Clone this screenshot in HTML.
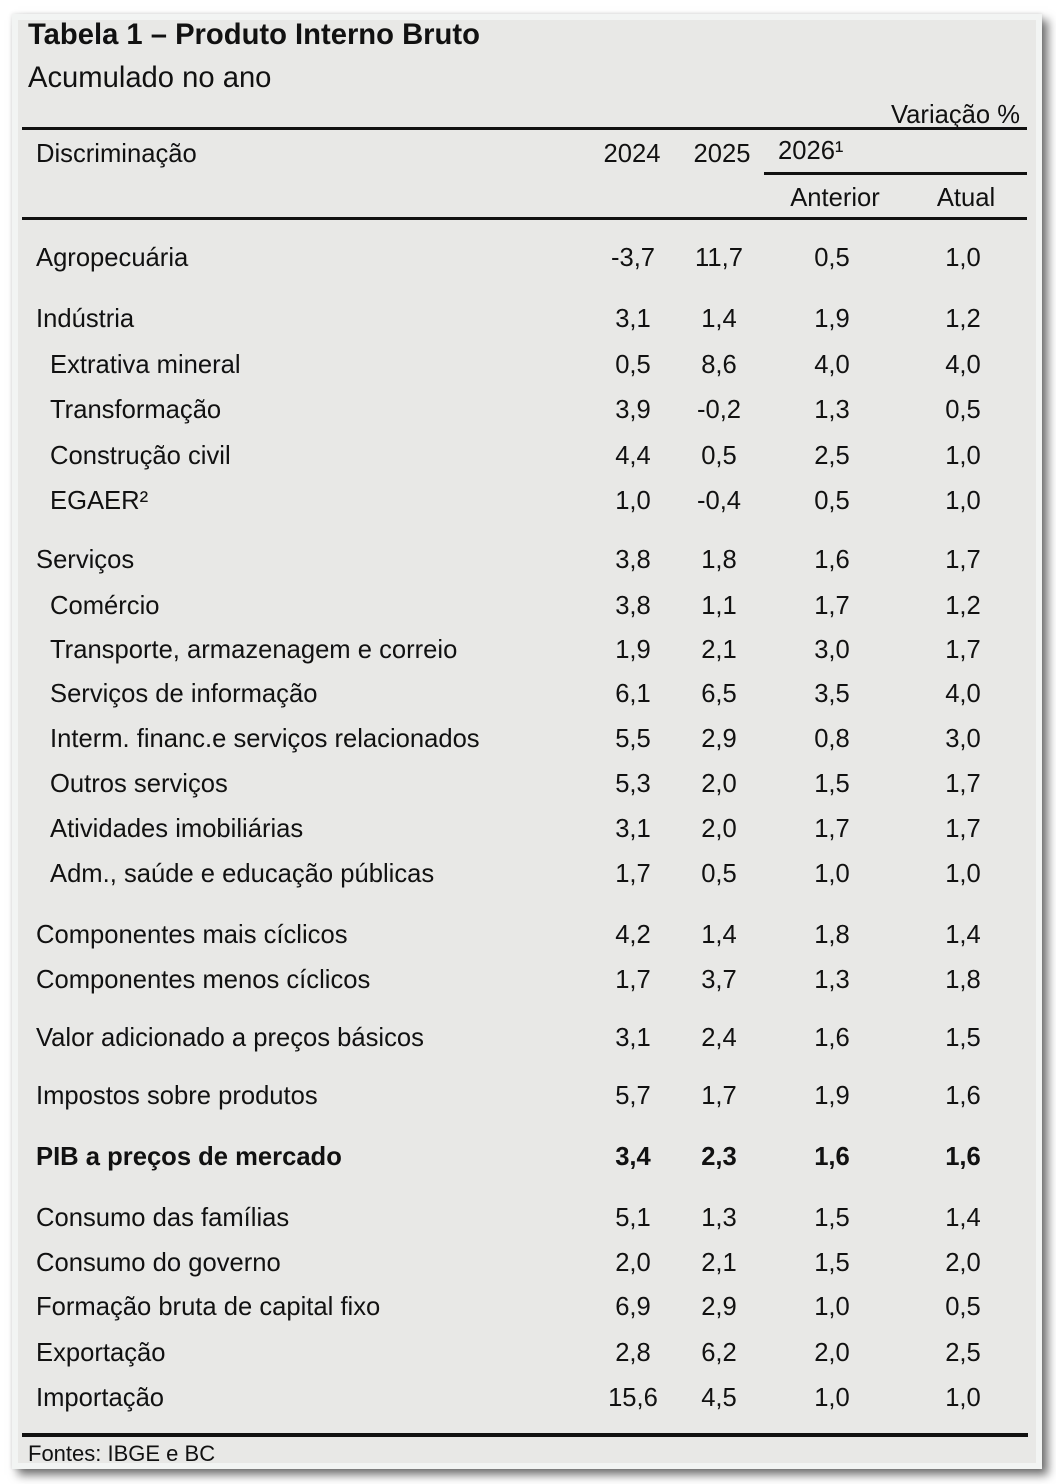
<!DOCTYPE html>
<html>
<head>
<meta charset="utf-8">
<style>
  html, body { margin:0; padding:0; }
  body { width:1056px; height:1484px; background:#ffffff; position:relative; overflow:hidden;
         font-family:"Liberation Sans", Arial, sans-serif; color:#111; }
  .card { position:absolute; left:12px; top:14px; width:1030px; height:1455px; background:#f2f4f3;
          box-shadow: 6px 6px 9px rgba(0,0,0,0.55), 0 0 4px rgba(0,0,0,0.12); }
  .inner { position:absolute; left:18px; top:20px; width:1018px; height:1443px; background:#e8e8e6; }
  .t { position:absolute; white-space:nowrap; }
  .title { left:28px; top:18px; font-size:29.2px; line-height:34px; font-weight:bold; }
  .sub { left:28px; top:61px; font-size:29.2px; line-height:34px; }
  .line { position:absolute; background:#111; }
  .r { position:absolute; left:0; width:1056px; height:30px; line-height:30px; font-size:25.6px; white-space:nowrap; }
  .r span { position:absolute; top:0; }
  .l1 { left:36px; }
  .l2 { left:50px; }
  .c1, .c2, .c3, .c4 { width:100px; text-align:center; }
  .c1 { left:583px; }
  .c2 { left:669px; }
  .c3 { left:782px; }
  .c4 { left:913px; }
  .b { font-weight:bold; }
  .foot { left:28px; top:1441px; font-size:22px; line-height:26px; }
</style>
</head>
<body>
<div class="card"></div>
<div class="inner"></div>

<div class="t title">Tabela 1 – Produto Interno Bruto</div>
<div class="t sub">Acumulado no ano</div>

<div class="r" style="top:100px;"><span style="right:36px;">Variação %</span></div>
<div class="line" style="left:22px; top:127px; width:1005px; height:3px;"></div>

<div class="r" style="top:139px;">
  <span class="l1">Discriminação</span>
  <span style="left:582px; width:100px; text-align:center;">2024</span>
  <span style="left:672px; width:100px; text-align:center;">2025</span>
</div>
<div class="r" style="top:136px;"><span style="left:778px;">2026¹</span></div>
<div class="line" style="left:764px; top:172px; width:263px; height:3px;"></div>
<div class="r" style="top:183px;">
  <span style="left:785px; width:100px; text-align:center;">Anterior</span>
  <span style="left:916px; width:100px; text-align:center;">Atual</span>
</div>
<div class="line" style="left:22px; top:217px; width:1005px; height:3px;"></div>

<div class="r" style="top:243px;"><span class="l1">Agropecuária</span><span class="c1">-3,7</span><span class="c2">11,7</span><span class="c3">0,5</span><span class="c4">1,0</span></div>

<div class="r" style="top:304px;"><span class="l1">Indústria</span><span class="c1">3,1</span><span class="c2">1,4</span><span class="c3">1,9</span><span class="c4">1,2</span></div>
<div class="r" style="top:350px;"><span class="l2">Extrativa mineral</span><span class="c1">0,5</span><span class="c2">8,6</span><span class="c3">4,0</span><span class="c4">4,0</span></div>
<div class="r" style="top:395px;"><span class="l2">Transformação</span><span class="c1">3,9</span><span class="c2">-0,2</span><span class="c3">1,3</span><span class="c4">0,5</span></div>
<div class="r" style="top:441px;"><span class="l2">Construção civil</span><span class="c1">4,4</span><span class="c2">0,5</span><span class="c3">2,5</span><span class="c4">1,0</span></div>
<div class="r" style="top:486px;"><span class="l2">EGAER²</span><span class="c1">1,0</span><span class="c2">-0,4</span><span class="c3">0,5</span><span class="c4">1,0</span></div>

<div class="r" style="top:545px;"><span class="l1">Serviços</span><span class="c1">3,8</span><span class="c2">1,8</span><span class="c3">1,6</span><span class="c4">1,7</span></div>
<div class="r" style="top:591px;"><span class="l2">Comércio</span><span class="c1">3,8</span><span class="c2">1,1</span><span class="c3">1,7</span><span class="c4">1,2</span></div>
<div class="r" style="top:635px;"><span class="l2">Transporte, armazenagem e correio</span><span class="c1">1,9</span><span class="c2">2,1</span><span class="c3">3,0</span><span class="c4">1,7</span></div>
<div class="r" style="top:679px;"><span class="l2">Serviços de informação</span><span class="c1">6,1</span><span class="c2">6,5</span><span class="c3">3,5</span><span class="c4">4,0</span></div>
<div class="r" style="top:724px;"><span class="l2">Interm. financ.e serviços relacionados</span><span class="c1">5,5</span><span class="c2">2,9</span><span class="c3">0,8</span><span class="c4">3,0</span></div>
<div class="r" style="top:769px;"><span class="l2">Outros serviços</span><span class="c1">5,3</span><span class="c2">2,0</span><span class="c3">1,5</span><span class="c4">1,7</span></div>
<div class="r" style="top:814px;"><span class="l2">Atividades imobiliárias</span><span class="c1">3,1</span><span class="c2">2,0</span><span class="c3">1,7</span><span class="c4">1,7</span></div>
<div class="r" style="top:859px;"><span class="l2">Adm., saúde e educação públicas</span><span class="c1">1,7</span><span class="c2">0,5</span><span class="c3">1,0</span><span class="c4">1,0</span></div>

<div class="r" style="top:920px;"><span class="l1">Componentes mais cíclicos</span><span class="c1">4,2</span><span class="c2">1,4</span><span class="c3">1,8</span><span class="c4">1,4</span></div>
<div class="r" style="top:965px;"><span class="l1">Componentes menos cíclicos</span><span class="c1">1,7</span><span class="c2">3,7</span><span class="c3">1,3</span><span class="c4">1,8</span></div>

<div class="r" style="top:1023px;"><span class="l1">Valor adicionado a preços básicos</span><span class="c1">3,1</span><span class="c2">2,4</span><span class="c3">1,6</span><span class="c4">1,5</span></div>

<div class="r" style="top:1081px;"><span class="l1">Impostos sobre produtos</span><span class="c1">5,7</span><span class="c2">1,7</span><span class="c3">1,9</span><span class="c4">1,6</span></div>

<div class="r b" style="top:1142px;"><span class="l1">PIB a preços de mercado</span><span class="c1">3,4</span><span class="c2">2,3</span><span class="c3">1,6</span><span class="c4">1,6</span></div>

<div class="r" style="top:1203px;"><span class="l1">Consumo das famílias</span><span class="c1">5,1</span><span class="c2">1,3</span><span class="c3">1,5</span><span class="c4">1,4</span></div>
<div class="r" style="top:1248px;"><span class="l1">Consumo do governo</span><span class="c1">2,0</span><span class="c2">2,1</span><span class="c3">1,5</span><span class="c4">2,0</span></div>
<div class="r" style="top:1292px;"><span class="l1">Formação bruta de capital fixo</span><span class="c1">6,9</span><span class="c2">2,9</span><span class="c3">1,0</span><span class="c4">0,5</span></div>
<div class="r" style="top:1338px;"><span class="l1">Exportação</span><span class="c1">2,8</span><span class="c2">6,2</span><span class="c3">2,0</span><span class="c4">2,5</span></div>
<div class="r" style="top:1383px;"><span class="l1">Importação</span><span class="c1">15,6</span><span class="c2">4,5</span><span class="c3">1,0</span><span class="c4">1,0</span></div>

<div class="line" style="left:22px; top:1433px; width:1006px; height:4px;"></div>
<div class="t foot">Fontes: IBGE e BC</div>
</body>
</html>
